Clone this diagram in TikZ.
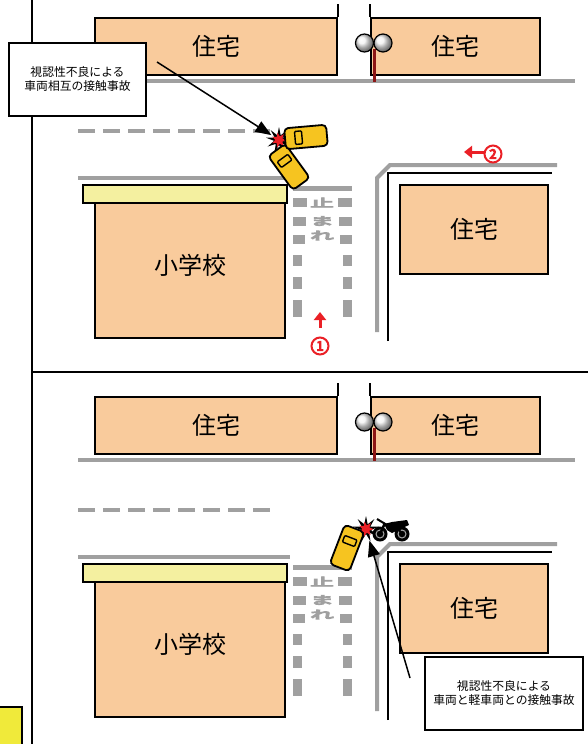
\documentclass[tikz,border=0pt]{standalone}
\usepackage{graphicx}
\usepackage{fontspec}
\setmainfont{Noto Sans CJK JP}
\usetikzlibrary{arrows.meta,shapes.geometric}
% heavy text: fill and stroke the glyphs
\newcommand\heavy[2]{\special{pdf:literal direct #1 w 2 Tr}#2\special{pdf:literal direct 0 Tr}}

\definecolor{housefill}{RGB}{249,203,156}
\definecolor{roofyellow}{RGB}{244,240,160}
\definecolor{roadgray}{RGB}{160,160,160}
\definecolor{caryellow}{RGB}{246,196,32}
\definecolor{signred}{RGB}{234,32,38}
\definecolor{polered}{RGB}{140,22,22}
\definecolor{markyellow}{RGB}{240,234,58}

\begin{document}
\begin{tikzpicture}[x=1pt,y=-1pt,>={Triangle[length=16pt,width=12pt]},
  house/.style={draw,line width=1.6pt,fill=housefill,inner sep=0pt,font=\fontsize{24}{28}\selectfont},
  road/.style={roadgray,line width=4pt},
  curb/.style={black,line width=1.6pt},
  callout/.style={draw,line width=2pt,fill=white,align=center,inner sep=0pt,font=\fontsize{11.8}{14}\selectfont},
  mirror/.style={circle,draw,line width=1.2pt,minimum size=18pt,inner sep=0pt,ball color=gray!10},
  numcircle/.style={circle,draw=signred,line width=2pt,text=signred,minimum size=17pt,inner sep=0pt,font=\fontsize{13}{13}\selectfont},
  stopmark/.style={text=roadgray,inner sep=0pt,font=\fontsize{22}{22}\selectfont},
  redarrow/.style={signred,line width=3pt,-{Triangle[length=8pt,width=12pt]}},
  pointer/.style={line width=1.5pt,->},
  carbody/.style={draw,line width=1.8pt,fill=caryellow,rounded corners=4pt},
  carwin/.style={draw,line width=1.4pt,fill=caryellow,rounded corners=1pt},
  car/.pic={
    \draw[carbody] (-21,-10.5) rectangle (21,10.5);
    \draw[carwin] (-11,-6.5) rectangle (-4,6.5);
  },
  crash/.pic={
    \node[star,star points=9,star point ratio=2.6,fill=black,minimum size=26pt,inner sep=0pt] (-spark) {};
    \node[star,star points=7,star point ratio=2,fill=signred,minimum size=15pt,inner sep=0pt,rotate=12] (-core) {};
  }]
  \useasboundingbox (0,0) rectangle (588,744);
  % frame
  \draw[line width=2pt] (32,0) -- (32,744);
  \draw[line width=2pt] (32,372) -- (588,372);
  \fill[markyellow,draw=black,line width=1.6pt] (-2,707) rectangle (22,748);

  % street block, same in both panels
  \foreach \dy/\p in {0/a,379/b}{
    \begin{scope}[shift={(0,\dy)}]
      % road edges
      \draw[road] (78,81) -- (575,81);
      \draw[road,dash pattern=on 17pt off 8pt] (78,131) -- (270,131);
      \draw[road] (78,178) -- (290,178);
      \draw[road,line width=5pt] (293,188) -- (352,188);
      \draw[road] (377,332) -- (377,178) -- (390,165) -- (557,165);
      \draw[curb] (388,341) -- (388,173) -- (552,173);
      % lane marks of the side street
      \foreach \ya/\yb/\w in {198/207/14,217/226/13,235/244/12,255/266/9,277/289/9,300/317/9}{
        \fill[roadgray] (293,\ya) rectangle (293+\w,\yb);
        \fill[roadgray] (352-\w,\ya) rectangle (352,\yb);
      }
      \foreach \c/\yy [count=\i] in {止/202.5,ま/221,れ/235.5}
        \node[stopmark] (stop\i\p) at (322,\yy) {\scalebox{1.05}[.5]{\heavy{1.8}{\c}}};
      % houses
      \node[house,minimum width=242pt,minimum height=57pt] (houseL\p) at (216,46.5) {住宅};
      \node[house,minimum width=169pt,minimum height=57pt] (houseR\p) at (455.5,46.5) {住宅};
      \node[house,minimum width=148pt,minimum height=89pt] (houseC\p) at (474,229.5) {住宅};
      \draw[curb] (houseL\p.north east) -- ++(0,-13);
      \draw[curb] (houseR\p.north west) -- ++(0,-13);
      % curve mirror
      \draw[polered,line width=3pt] (374,49) -- (374,82);
      \node[mirror] (mirL\p) at (364.5,43) {};
      \node[mirror] (mirR\p) at (383,43) {};
      % school
      \node[draw,line width=1.6pt,fill=housefill,minimum width=190pt,minimum height=135pt] (school\p) at (190,270.5) {};
      \node[draw,line width=1.6pt,fill=roofyellow,minimum width=204pt,minimum height=18pt] (roof\p) at (185,194) {};
      \node[font=\fontsize{24}{28}\selectfont] (schoolname\p) at (190,265) {小学校};
    \end{scope}
  }

  % upper panel: two cars
  \pic (crashA) at (279,140) {crash};
  \pic[rotate=-54] (carA2) at (289,167) {car};
  \pic[rotate=5] (carA1) at (306,137) {car};
  % travel directions
  \node[numcircle] (num1) at (320,346) {\heavy{1}{1}};
  \coordinate (go1) at (320,312);
  \draw[redarrow] ([yshift=9pt]num1.north) -- (go1);
  \node[numcircle] (num2) at (493,154) {\heavy{1}{2}};
  \coordinate (go2) at (464,152);
  \draw[redarrow] ([yshift=2pt]num2.west) -- (go2);
  % note
  \node[callout,minimum width=137pt,minimum height=73pt] (noteA) at (77.5,79.5) {視認性不良による\\車両相互の接触事故};
  \coordinate (tailA) at (157,62);
  \draw[pointer,shorten >=9pt] (tailA) -- (crashA-spark.center);

  % lower panel: car and bicycle
  \pic (crashB) at (366,529) {crash};
  \pic[rotate=249] (carB) at (347,548) {car};
  % bicycle
  \fill (380,534) circle (7.5);
  \fill (402,534) circle (7.5);
  \draw[gray!70,line width=1pt] (380,534) circle (4) (402,534) circle (4);
  \fill (384,524) -- (392,522) -- (407,520) -- (409,525) -- (400,529) -- (392,533) -- (387,530) -- cycle;
  \draw[line width=2pt] (377,519) -- (387,525);
  \draw[line width=2.5pt] (385,523) -- (380,534);
  \draw[line width=2pt] (397,527) -- (402,534);
  % note
  \node[callout,line width=2.4pt,minimum width=158pt,minimum height=73pt] (noteB) at (504,693.5) {視認性不良による\\車両と軽車両との接触事故};
  \coordinate (tailB) at (410,678);
  \draw[pointer,shorten >=12pt] (tailB) -- (crashB-spark.center);
\end{tikzpicture}
\end{document}
